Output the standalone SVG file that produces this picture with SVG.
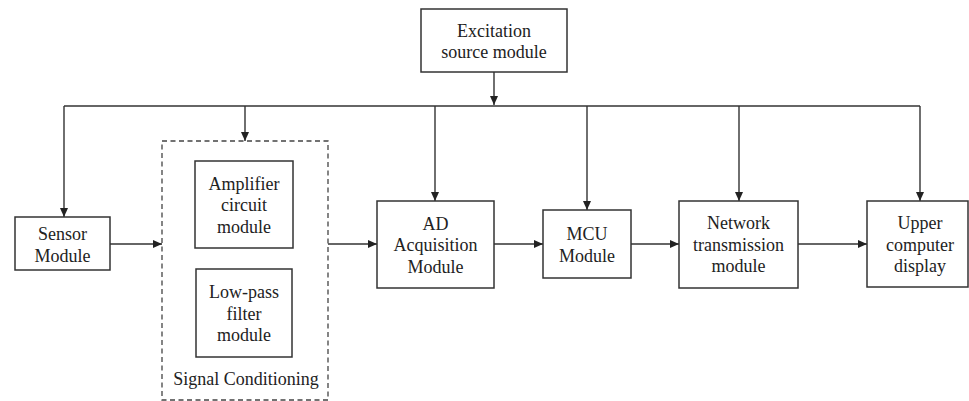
<svg xmlns="http://www.w3.org/2000/svg" width="969" height="401" viewBox="0 0 969 401">
<style>
.box{fill:#fff;stroke:#333;stroke-width:1.5}
.dash{fill:none;stroke:#444;stroke-width:1.3;stroke-dasharray:5,3.5}
text{font-family:'Liberation Serif','Times New Roman',Times,'DejaVu Serif',serif;font-size:18px;fill:#222;text-anchor:middle}
.c{fill:none;stroke:#333;stroke-width:1.4}
</style>
<defs>
<marker id="ah" markerWidth="10" markerHeight="8" refX="9" refY="4" orient="auto" markerUnits="userSpaceOnUse">
<path d="M0,0 L9,4 L0,8 Z" fill="#222"/>
</marker>
</defs>
<rect width="969" height="401" fill="#fff"/>
<g id="connectors">
<line class="c" x1="494" y1="72" x2="494" y2="105" marker-end="url(#ah)"/>
<polyline class="c" points="64,106 920,106"/>
<line class="c" x1="64" y1="106" x2="64" y2="217" marker-end="url(#ah)"/>
<line class="c" x1="245" y1="106" x2="245" y2="141" marker-end="url(#ah)"/>
<line class="c" x1="435" y1="106" x2="435" y2="201" marker-end="url(#ah)"/>
<line class="c" x1="587" y1="106" x2="587" y2="210" marker-end="url(#ah)"/>
<line class="c" x1="739" y1="106" x2="739" y2="201" marker-end="url(#ah)"/>
<line class="c" x1="920" y1="106" x2="920" y2="201" marker-end="url(#ah)"/>
<line class="c" x1="110" y1="244" x2="162" y2="244" marker-end="url(#ah)"/>
<line class="c" x1="328" y1="244" x2="377" y2="244" marker-end="url(#ah)"/>
<line class="c" x1="494" y1="244" x2="543" y2="244" marker-end="url(#ah)"/>
<line class="c" x1="631" y1="244" x2="679" y2="244" marker-end="url(#ah)"/>
<line class="c" x1="798" y1="244" x2="867" y2="244" marker-end="url(#ah)"/>
</g>
<g id="excitation">
<rect class="box" x="421" y="9" width="146" height="63"/>
<text x="494" y="37">Excitation</text>
<text x="494" y="58">source module</text>
</g>
<g id="sensor">
<rect class="box" x="15" y="217" width="95" height="53"/>
<text x="62.5" y="240">Sensor</text>
<text x="62.5" y="262">Module</text>
</g>
<g id="signal-conditioning">
<rect class="dash" x="162" y="141" width="166" height="259"/>
<text x="246" y="385">Signal Conditioning</text>
</g>
<g id="amplifier">
<rect class="box" x="195" y="161" width="98" height="87"/>
<text x="244" y="190">Amplifier</text>
<text x="244" y="211">circuit</text>
<text x="244" y="233">module</text>
</g>
<g id="lowpass">
<rect class="box" x="196" y="269" width="96" height="88"/>
<text x="244" y="298">Low-pass</text>
<text x="244" y="320">filter</text>
<text x="244" y="341">module</text>
</g>
<g id="ad">
<rect class="box" x="377" y="201" width="117" height="87"/>
<text x="435.5" y="230">AD</text>
<text x="435.5" y="251">Acquisition</text>
<text x="435.5" y="273">Module</text>
</g>
<g id="mcu">
<rect class="box" x="543" y="210" width="88" height="68"/>
<text x="587" y="240">MCU</text>
<text x="587" y="262">Module</text>
</g>
<g id="network">
<rect class="box" x="679" y="201" width="119" height="87"/>
<text x="738.5" y="229">Network</text>
<text x="738.5" y="251">transmission</text>
<text x="738.5" y="272">module</text>
</g>
<g id="upper">
<rect class="box" x="867" y="201" width="101" height="86"/>
<text x="920" y="229">Upper</text>
<text x="920" y="251">computer</text>
<text x="920" y="272">display</text>
</g>
</svg>
